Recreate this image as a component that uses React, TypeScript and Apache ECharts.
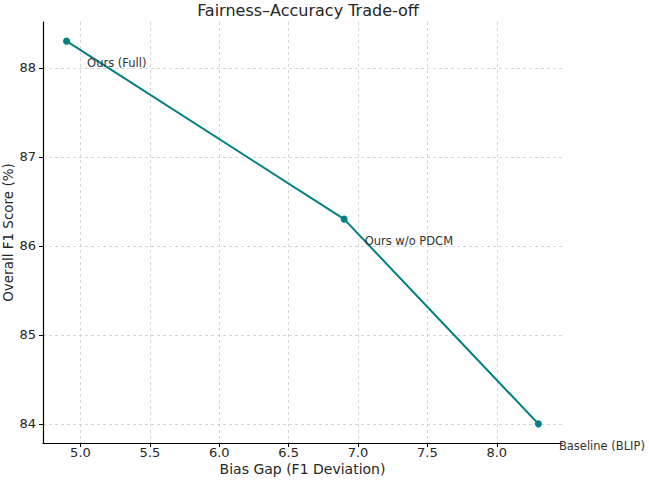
import React, { useEffect, useRef } from "react";
import * as echarts from "echarts";

const methods = ["Ours (Full)", "Ours w/o PDCM", "Baseline (BLIP)"];
const biasGap = [4.9, 6.9, 8.3];
const f1Score = [88.3, 86.3, 84.0];
const xTicks = [5.0, 5.5, 6.0, 6.5, 7.0, 7.5, 8.0];
const yTicks = [84, 85, 86, 87, 88];

const FONT = "DejaVu Sans";

export default function App() {
  const ref = useRef<HTMLDivElement>(null);
  useEffect(() => {
    if (!ref.current) return;
    const chart = echarts.init(ref.current, undefined, { renderer: "svg" });
    const data = biasGap.map((x, i) => ({ value: [x, f1Score[i]], name: methods[i] }));
    chart.setOption({
      animation: false,
      textStyle: { fontFamily: FONT },
      title: {
        text: "Fairness–Accuracy Trade-off",
        left: 303,
        textAlign: "center",
        top: -3,
        textStyle: { fontFamily: FONT, fontSize: 16, fontWeight: "normal", color: "#262626" },
      },
      grid: { left: 43, right: 87, top: 22, bottom: 39, containLabel: false, outerBoundsMode: "none" },
      xAxis: {
        type: "value",
        min: 4.73,
        max: 8.47,
        name: "Bias Gap (F1 Deviation)",
        nameLocation: "middle",
        nameGap: 19,
        nameMoveOverlap: false,
        nameTextStyle: { fontFamily: FONT, fontSize: 14, color: "#262626", verticalAlign: "top" },
        axisLine: { show: true, onZero: false, lineStyle: { color: "#000", width: 1.2 } },
        axisTick: { show: true, length: 4, inside: false, customValues: xTicks, lineStyle: { color: "#000" } },
        axisLabel: {
          customValues: xTicks,
          margin: 3,
          fontFamily: FONT,
          fontSize: 13,
          color: "#262626",
          formatter: (v: number) => v.toFixed(1),
        },
        splitLine: { show: true, lineStyle: { color: "#cccccc", type: [3, 3], width: 0.8 } },
      },
      yAxis: {
        type: "value",
        min: 83.785,
        max: 88.515,
        name: "Overall F1 Score (%)",
        nameLocation: "middle",
        nameGap: 28,
        nameMoveOverlap: false,
        nameTextStyle: { fontFamily: FONT, fontSize: 13.5, color: "#262626" },
        axisLine: { show: true, onZero: false, lineStyle: { color: "#000", width: 1.2 } },
        axisTick: { show: true, length: 4, inside: false, customValues: yTicks, lineStyle: { color: "#000" } },
        axisLabel: {
          customValues: yTicks,
          margin: 7,
          fontFamily: FONT,
          fontSize: 13,
          color: "#262626",
          formatter: (v: number) => String(Math.round(v)),
        },
        splitLine: { show: true, lineStyle: { color: "#cccccc", type: [3, 3], width: 0.8 } },
      },
      series: [
        {
          type: "line",
          data,
          symbol: "circle",
          symbolSize: 7,
          clip: false,
          lineStyle: { color: "#008080", width: 2 },
          itemStyle: { color: "#008080" },
          label: {
            show: true,
            position: "right",
            distance: 0,
            offset: [17, 22],
            formatter: (p: any) => p.name,
            fontFamily: FONT,
            fontSize: 11.5,
            color: "#333333",
          },
        },
      ],
    });
    return () => chart.dispose();
  }, []);
  return (
    <div
      ref={ref}
      style={{ position: "absolute", left: 0, top: 0, width: 649, height: 482 }}
    />
  );
}
